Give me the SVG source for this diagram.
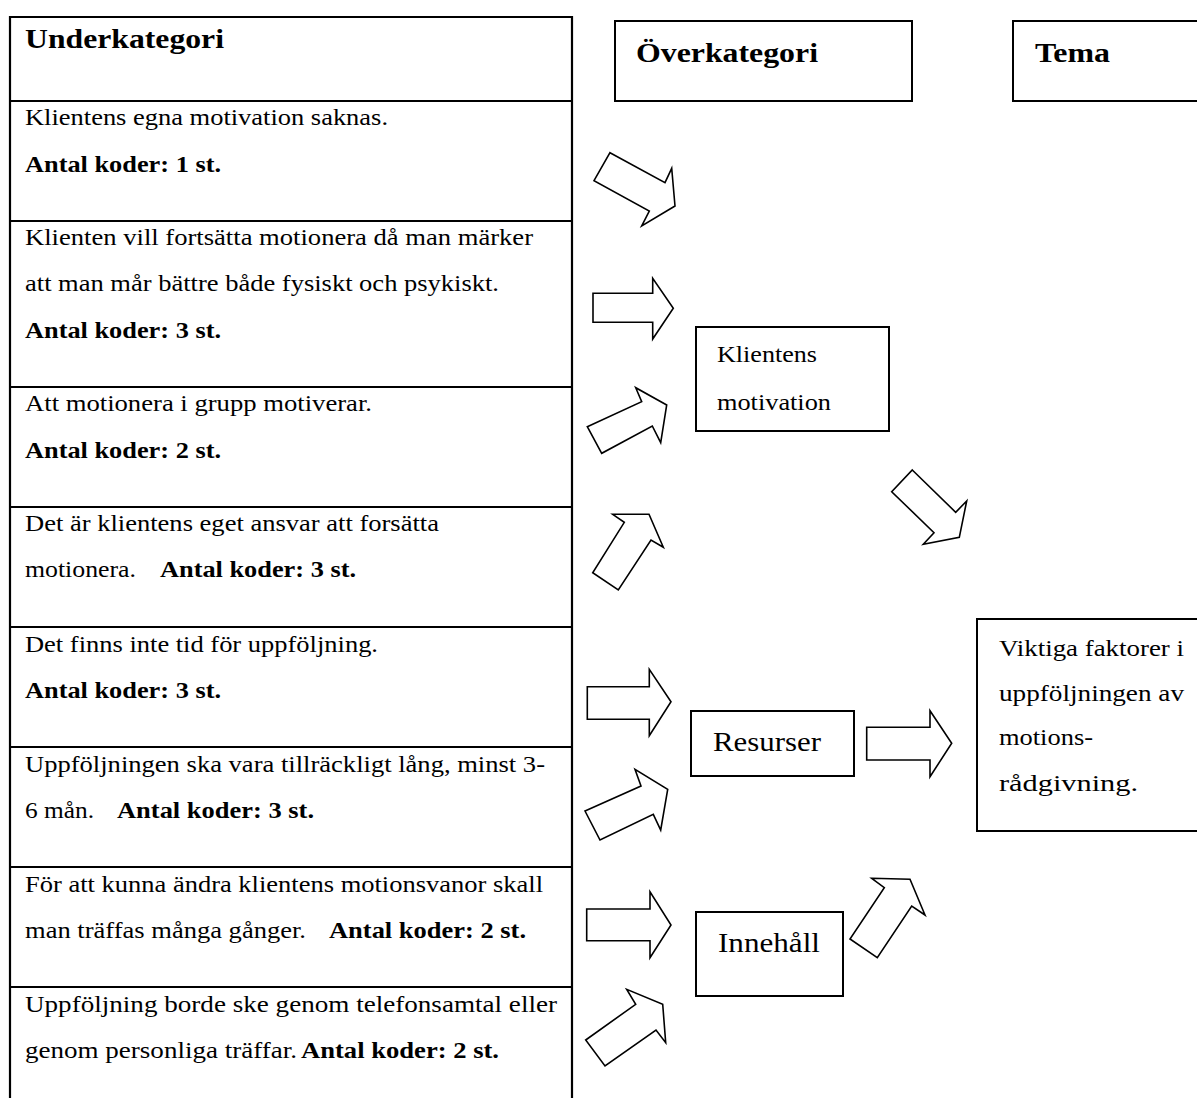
<svg xmlns="http://www.w3.org/2000/svg" width="1197" height="1098" viewBox="0 0 1197 1098">
<style>
  text { font-family: "Times New Roman", "Liberation Serif", Tinos, "Nimbus Roman", Times, serif; fill: #000; }
  .t { font-size: 24px; }
  .b { font-weight: bold; }
  .h { font-size: 28px; font-weight: bold; }
  .big { font-size: 28px; }
  .box { fill: #fff; stroke: #000; stroke-width: 2; }
  .grid { stroke: #000; stroke-width: 2.2; fill: none; }
  .arrow { fill: #fff; stroke: #000; stroke-width: 1.6; stroke-linejoin: miter; }
</style>
<rect x="0" y="0" width="1197" height="1098" fill="#fff"/>

<g id="table">
  <path class="grid" d="M10 1098 V17 H572 V1098 M10 101 H572 M10 221 H572 M10 387 H572 M10 507 H572 M10 627 H572 M10 747 H572 M10 867 H572 M10 987 H572"/>
</g>

<g id="underkategori-header">
  <text class="h" x="25" y="48" textLength="199" lengthAdjust="spacingAndGlyphs">Underkategori</text>
</g>

<g id="row1">
  <text class="t" x="25" y="125" textLength="363" lengthAdjust="spacingAndGlyphs">Klientens egna motivation saknas.</text>
  <text class="t b" x="25" y="172" textLength="196" lengthAdjust="spacingAndGlyphs">Antal koder: 1 st.</text>
</g>
<g id="row2">
  <text class="t" x="25" y="245" textLength="508" lengthAdjust="spacingAndGlyphs">Klienten vill fortsätta motionera då man märker</text>
  <text class="t" x="25" y="291" textLength="474" lengthAdjust="spacingAndGlyphs">att man mår bättre både fysiskt och psykiskt.</text>
  <text class="t b" x="25" y="338" textLength="196" lengthAdjust="spacingAndGlyphs">Antal koder: 3 st.</text>
</g>
<g id="row3">
  <text class="t" x="25" y="411" textLength="347" lengthAdjust="spacingAndGlyphs">Att motionera i grupp motiverar.</text>
  <text class="t b" x="25" y="458" textLength="196" lengthAdjust="spacingAndGlyphs">Antal koder: 2 st.</text>
</g>
<g id="row4">
  <text class="t" x="25" y="531" textLength="414" lengthAdjust="spacingAndGlyphs">Det är klientens eget ansvar att forsätta</text>
  <text class="t" x="25" y="577" textLength="111" lengthAdjust="spacingAndGlyphs">motionera.</text>
  <text class="t b" x="160" y="577" textLength="196" lengthAdjust="spacingAndGlyphs">Antal koder: 3 st.</text>
</g>
<g id="row5">
  <text class="t" x="25" y="652" textLength="353" lengthAdjust="spacingAndGlyphs">Det finns inte tid för uppföljning.</text>
  <text class="t b" x="25" y="698" textLength="196" lengthAdjust="spacingAndGlyphs">Antal koder: 3 st.</text>
</g>
<g id="row6">
  <text class="t" x="25" y="772" textLength="520" lengthAdjust="spacingAndGlyphs">Uppföljningen ska vara tillräckligt lång, minst 3-</text>
  <text class="t" x="25" y="818" textLength="69" lengthAdjust="spacingAndGlyphs">6 mån.</text>
  <text class="t b" x="117" y="818" textLength="197" lengthAdjust="spacingAndGlyphs">Antal koder: 3 st.</text>
</g>
<g id="row7">
  <text class="t" x="25" y="892" textLength="518" lengthAdjust="spacingAndGlyphs">För att kunna ändra klientens motionsvanor skall</text>
  <text class="t" x="25" y="938" textLength="281" lengthAdjust="spacingAndGlyphs">man träffas många gånger.</text>
  <text class="t b" x="329" y="938" textLength="197" lengthAdjust="spacingAndGlyphs">Antal koder: 2 st.</text>
</g>
<g id="row8">
  <text class="t" x="25" y="1012" textLength="532" lengthAdjust="spacingAndGlyphs">Uppföljning borde ske genom telefonsamtal eller</text>
  <text class="t" x="25" y="1058" textLength="272" lengthAdjust="spacingAndGlyphs">genom personliga träffar.</text>
  <text class="t b" x="301" y="1058" textLength="198" lengthAdjust="spacingAndGlyphs">Antal koder: 2 st.</text>
</g>

<g id="overkategori-header">
  <rect class="box" x="615" y="21" width="297" height="80"/>
  <text class="h" x="636" y="62" textLength="182" lengthAdjust="spacingAndGlyphs">Överkategori</text>
</g>
<g id="tema-header">
  <rect class="box" x="1013" y="21" width="200" height="80"/>
  <text class="h" x="1035" y="62" textLength="75" lengthAdjust="spacingAndGlyphs">Tema</text>
</g>

<g id="klientens-motivation">
  <rect class="box" x="696" y="327" width="193" height="104"/>
  <text class="t" x="717" y="362" textLength="100" lengthAdjust="spacingAndGlyphs">Klientens</text>
  <text class="t" x="717" y="410" textLength="114" lengthAdjust="spacingAndGlyphs">motivation</text>
</g>
<g id="resurser">
  <rect class="box" x="691" y="711" width="163" height="65"/>
  <text class="big" x="713" y="751" textLength="108" lengthAdjust="spacingAndGlyphs">Resurser</text>
</g>
<g id="innehall">
  <rect class="box" x="696" y="912" width="147" height="84"/>
  <text class="big" x="718" y="952" textLength="102" lengthAdjust="spacingAndGlyphs">Innehåll</text>
</g>
<g id="viktiga-faktorer">
  <rect class="box" x="977" y="619" width="240" height="212"/>
  <text class="t" x="999" y="656" textLength="185" lengthAdjust="spacingAndGlyphs">Viktiga faktorer i</text>
  <text class="t" x="999" y="701" textLength="185" lengthAdjust="spacingAndGlyphs">uppföljningen  av</text>
  <text class="t" x="999" y="745" textLength="94" lengthAdjust="spacingAndGlyphs">motions-</text>
  <text class="t" x="999" y="791" textLength="139" lengthAdjust="spacingAndGlyphs">rådgivning.</text>
</g>

<g id="connectors">
  <polygon class="arrow" points="610,152.7 665,182.7 671.7,168.3 675,206 641.7,226 649.3,211 594,180.7"/>
  <polygon class="arrow" points="593,293.3 652.7,293.3 652.7,278.3 673.3,308.3 652.7,339 652.7,322.3 593,322.3"/>
  <polygon class="arrow" points="587.3,426.7 641.7,401.7 635.7,387.7 666.7,405 660.7,442.7 652.3,426 601.7,453.3"/>
  <polygon class="arrow" points="612.7,514.3 649,514.3 663.3,547.3 651,540 618.3,590 592.7,572.7 624.3,522.3"/>
  <polygon class="arrow" points="587.3,686.7 649.3,686.7 649.3,669.3 671,701.7 649.3,735.7 649.3,719.3 587.3,719.3"/>
  <polygon class="arrow" points="585,811 641,786 635,769.3 667.7,789.3 660.7,830 653.3,814.3 600,840"/>
  <polygon class="arrow" points="866.7,727.3 930,727.3 930,710.7 951.7,743.3 930,776.7 930,760 866.7,760"/>
  <polygon class="arrow" points="586.7,909 650,909 650,891.7 671,925 650,957.7 650,940.7 586.7,940.7"/>
  <polygon class="arrow" points="585.7,1040 635.7,1004.3 626.7,989.3 662.7,1004.3 665.7,1042.7 656,1030 605,1066"/>
  <polygon class="arrow" points="871.7,878.3 910,879.3 925,915 911.7,906 877.3,957.7 850,939 884.3,887.7"/>
  <polygon class="arrow" points="912.3,470 955.7,512.3 966.7,501 959.3,537.3 923.3,544.3 934,532.7 891.7,491.7"/>
</g>
</svg>
